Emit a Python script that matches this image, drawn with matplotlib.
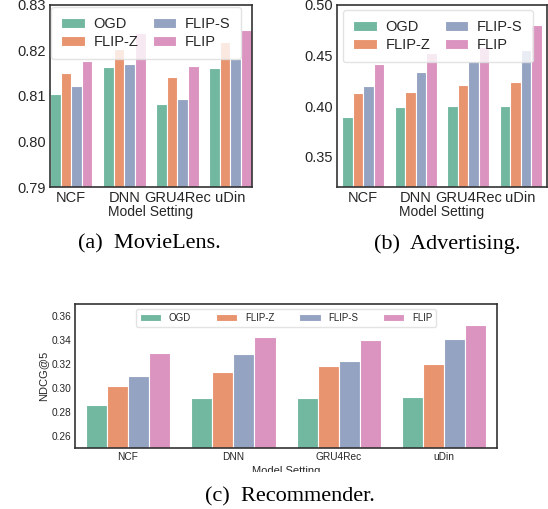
import matplotlib
matplotlib.use("Agg")
from matplotlib import pyplot as plt
from matplotlib.transforms import Bbox
import numpy as np

models = ['NCF', 'DNN', 'GRU4Rec', 'uDin']
methods = ['OGD', 'FLIP-Z', 'FLIP-S', 'FLIP']

movielens = {
    'OGD':    [0.8104, 0.8163, 0.8082, 0.8161],
    'FLIP-Z': [0.8150, 0.8203, 0.8141, 0.8218],
    'FLIP-S': [0.8121, 0.8171, 0.8093, 0.8181],
    'FLIP':   [0.8177, 0.8238, 0.8165, 0.8245],
}
advertising = {
    'OGD':    [0.3896, 0.3992, 0.4001, 0.4001],
    'FLIP-Z': [0.4126, 0.4142, 0.4204, 0.4237],
    'FLIP-S': [0.4198, 0.4339, 0.4447, 0.4558],
    'FLIP':   [0.4411, 0.4525, 0.4581, 0.4804],
}
recommender = {
    'OGD':    [0.2855, 0.2917, 0.2919, 0.2928],
    'FLIP-Z': [0.3017, 0.3135, 0.3180, 0.3199],
    'FLIP-S': [0.3096, 0.3281, 0.3222, 0.3410],
    'FLIP':   [0.3292, 0.3424, 0.3396, 0.3527],
}

# Set2, desaturated like seaborn's barplot
colors = ['#72b8a0', '#e8946f', '#95a3c3', '#db94c0']

plt.rcParams['font.family'] = ['Liberation Sans', 'DejaVu Sans']
plt.rcParams['text.color'] = '#262626'
plt.rcParams['axes.labelcolor'] = '#262626'
plt.rcParams['xtick.color'] = '#262626'
plt.rcParams['ytick.color'] = '#262626'


def bar_panel(ax, data, ylim, yticks, xlim, fs_tick, fs_lab, lpad=0):
    x = np.arange(len(models))
    w = 0.2
    for i, m in enumerate(methods):
        ax.bar(x - 0.3 + i * w, data[m], width=w, color=colors[i],
               edgecolor='white', linewidth=0.8, label=m)
    ax.set_ylim(*ylim)
    ax.set_xlim(*xlim)
    ax.set_yticks(yticks)
    ax.set_yticklabels(['%.2f' % t for t in yticks])
    ax.set_xticks(x)
    ax.set_xticklabels(models)
    ax.tick_params(length=0, labelsize=fs_tick, pad=3)
    ax.set_xlabel('Model Setting', fontsize=fs_lab, labelpad=lpad)
    for s in ax.spines.values():
        s.set_color('#333333')
        s.set_linewidth(1.2)


fig = plt.figure(figsize=(5.48, 5.09), dpi=100)

leg_top = dict(ncol=2, loc='upper left', borderaxespad=0, fontsize=10.5,
               handlelength=1.6, handletextpad=0.6, columnspacing=1.0,
               labelspacing=0.3, borderpad=0.7, edgecolor='#dddddd')

ax1 = fig.add_axes([0.0912, 0.6326, 0.368, 0.358])
bar_panel(ax1, movielens, (0.79, 0.83), [0.79, 0.80, 0.81, 0.82, 0.83],
          (-0.4, 3.4), 10.5, 10)
ax1.legend(bbox_to_anchor=(0.005, 0.99), **leg_top)

ax2 = fig.add_axes([0.615, 0.6326, 0.383, 0.358])
bar_panel(ax2, advertising, (0.32, 0.50), [0.35, 0.40, 0.45, 0.50],
          (-0.5, 3.5), 10.5, 10)
ax2.legend(bbox_to_anchor=(0.029, 0.973), **leg_top)

ax3 = fig.add_axes([0.137, 0.1198, 0.770, 0.283])
bar_panel(ax3, recommender, (0.25, 0.37),
          [0.26, 0.28, 0.30, 0.32, 0.34, 0.36],
          (-0.5, 3.5), 7.3, 8, lpad=3)
ax3.set_ylabel('NDCG@5', fontsize=8, labelpad=2)
ax3.legend(ncol=4, loc='upper center', bbox_to_anchor=(0.5, 0.965),
           borderaxespad=0, fontsize=7, handlelength=2.2,
           columnspacing=2.55, edgecolor='#dddddd')
# the bottom x label is cut by the caption area in the original figure
ax3.xaxis.label.set_clip_box(Bbox.from_extents(0, 509 - 472, 548, 509))
ax3.xaxis.label.set_clip_on(True)

cap = dict(ha='center', va='center', fontsize=16, family='Liberation Serif',
           color='black')
fig.text(0.272, 0.521, '(a)  MovieLens.', **cap)
fig.text(0.816, 0.521, '(b)  Advertising.', **cap)
fig.text(0.529, 0.023, '(c)  Recommender.', **cap)

fig.savefig('out.png', dpi=100)
